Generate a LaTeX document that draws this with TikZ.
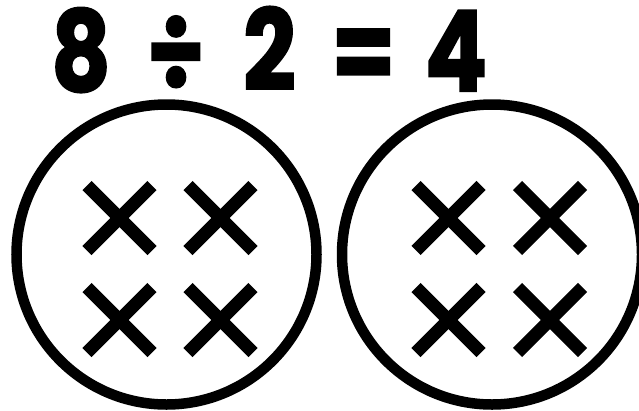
\documentclass[tikz,border=0pt]{standalone}
\usepackage{fontspec}
\newfontfamily\titlefont{Poppins}[BoldFeatures={FakeBold=1.8,FakeStretch=0.82}]
\begin{document}
\begin{tikzpicture}[x=1pt,y=-1pt,
  group/.style={draw=black,circle,line width=10.5pt,minimum size=300pt,inner sep=0pt},
  cross/.style={line width=13pt,line cap=butt,black},
  glyph/.style={anchor=base,inner sep=0pt,font=\titlefont\bfseries\fontsize{112}{112}\selectfont}]
\useasboundingbox[fill=white] (0,0) rectangle (639,410);
% title
\node[glyph] (t8) at (81,91) {8};
\node[glyph] (tdiv) at (175.5,91) {÷};
\node[glyph] (t2) at (269.5,90) {2};
\node[glyph] (teq) at (363.5,91) {=};
\node[glyph] (t4) at (456,91) {4};
% groups
\node[group] (g1) at (166.5,254.5) {};
\node[group] (g2) at (492,254.5) {};
% crosses
\foreach \cx/\cy in {119.5/218,220.5/218,119.5/320,220.5/320,448.5/218,550/218,448.5/320,550/320}{
  \draw[cross] (\cx-32.5,\cy-32.5) -- (\cx+32.5,\cy+32.5);
  \draw[cross] (\cx-32.5,\cy+32.5) -- (\cx+32.5,\cy-32.5);
}
\end{tikzpicture}
\end{document}
